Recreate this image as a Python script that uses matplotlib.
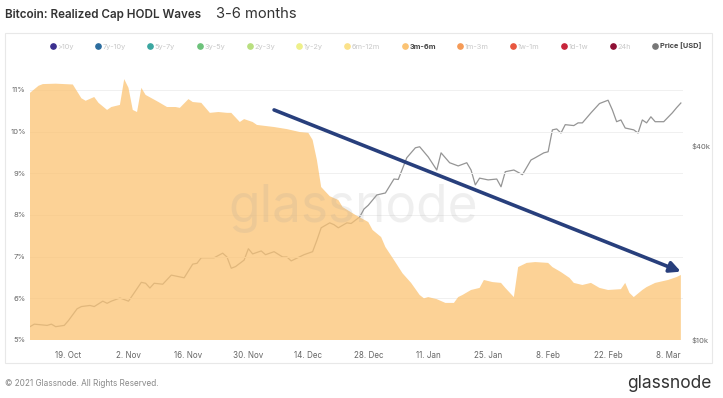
import pandas as pd
import matplotlib
matplotlib.use("Agg")
from matplotlib import pyplot as plt
from matplotlib.lines import Line2D
from matplotlib.patches import Rectangle
import matplotlib.dates as mdates

plt.rcParams['font.family'] = ['Inter', 'DejaVu Sans']

start = pd.Timestamp('2020-10-10')

# 3m-6m share of realized cap (day offset from start, %)
hodl_days = [0, 2, 3, 6, 10, 12, 13, 15, 16, 18, 19, 21, 22, 23, 24, 25, 26, 27,
             30, 32, 34, 35, 37, 38, 40, 42, 44, 46, 47, 49, 50, 52, 53, 57, 60,
             63, 65, 66, 67, 68, 70, 72, 73, 76, 79, 80, 82, 83, 85, 87, 89, 91,
             92, 93, 95, 97, 99, 100, 101, 103, 105, 106, 108, 110, 111, 113, 114,
             116, 118, 121, 122, 124, 126, 127, 129, 131, 133, 135, 138, 139, 140,
             141, 143, 144, 146, 149, 151, 152]
hodl_pct = [10.93, 11.10, 11.14, 11.15, 11.13, 10.80, 10.74, 10.83, 10.69, 10.52,
            10.59, 10.64, 11.26, 11.05, 10.52, 10.47, 11.05, 10.88, 10.71, 10.59,
            10.59, 10.57, 10.78, 10.71, 10.69, 10.45, 10.47, 10.45, 10.45, 10.23,
            10.30, 10.23, 10.16, 10.11, 10.06, 9.99, 9.97, 9.80, 9.32, 8.67, 8.45,
            8.36, 8.19, 8.00, 7.83, 7.64, 7.47, 7.23, 6.92, 6.60, 6.37, 6.08, 6.00,
            6.03, 5.98, 5.89, 5.89, 6.03, 6.08, 6.20, 6.25, 6.44, 6.39, 6.37, 6.25,
            6.03, 6.75, 6.85, 6.87, 6.85, 6.75, 6.63, 6.49, 6.37, 6.32, 6.37, 6.25,
            6.20, 6.22, 6.37, 6.13, 6.03, 6.20, 6.27, 6.37, 6.44, 6.51, 6.56]

# BTC price in thousand USD
price_days = [0, 1, 4, 5, 6, 8, 9, 11, 12, 14, 15, 17, 18, 19, 21, 23, 24, 26,
              27, 28, 29, 31, 33, 34, 36, 38, 39, 40, 43, 45, 46, 47, 48, 50, 51,
              52, 54, 55, 57, 59, 60, 61, 64, 66, 67, 68, 70, 71, 72, 74, 75, 77,
              78, 79, 81, 83, 85, 86, 88, 90, 91, 93, 95, 96, 98, 100, 102, 103,
              104, 105, 107, 109, 110, 111, 113, 115, 117, 118, 120, 121, 122, 123,
              124, 125, 127, 128, 129, 131, 133, 135, 136, 137, 138, 139, 141, 142,
              143, 144, 145, 146, 148, 150, 151, 152]
price_k = [11.0, 11.2, 11.1, 11.2, 11.0, 11.1, 11.5, 12.5, 12.7, 12.8, 12.7, 13.2,
           13.0, 13.2, 13.5, 13.2, 13.8, 15.1, 15.0, 14.5, 15.0, 14.9, 15.9, 15.8,
           15.6, 17.2, 17.3, 18.0, 18.0, 18.6, 18.1, 16.7, 16.9, 17.7, 19.2, 18.5,
           18.9, 18.4, 18.8, 18.1, 18.1, 17.6, 18.4, 18.8, 20.4, 22.3, 23.1, 22.8,
           22.3, 23.1, 23.0, 24.1, 25.5, 26.2, 28.2, 28.6, 31.6, 31.5, 36.8, 39.5,
           39.8, 37.0, 33.7, 38.1, 35.5, 34.7, 35.5, 33.7, 30.3, 31.8, 31.4, 31.6,
           29.9, 33.3, 33.7, 32.6, 36.2, 36.8, 38.1, 38.4, 44.9, 45.2, 43.9, 46.6,
           46.3, 47.2, 47.2, 50.7, 54.2, 55.5, 51.8, 47.6, 48.2, 45.5, 44.9, 43.9,
           48.2, 47.2, 49.3, 47.6, 47.6, 50.7, 52.6, 54.4]

pct_ticks = [5, 6, 7, 8, 9, 10, 11]
price_ticks = [10, 40]
date_ticks = ['2020-10-19', '2020-11-02', '2020-11-16', '2020-11-30', '2020-12-14',
              '2020-12-28', '2021-01-11', '2021-01-25', '2021-02-08', '2021-02-22',
              '2021-03-08']

legend_labels = ['>10y', '7y-10y', '5y-7y', '3y-5y', '2y-3y', '1y-2y', '6m-12m',
                 '3m-6m', '1m-3m', '1w-1m', '1d-1w', '24h', 'Price [USD]']
legend_colors = ['#3b2f8f', '#2b6c9e', '#3aa6a0', '#6cc27a', '#b8df7f', '#eef08a',
                 '#fbe28a', '#fbc373', '#f59a56', '#e8573f', '#c7243a', '#8e0f34',
                 '#777777']

hodl_dates = start + pd.to_timedelta(hodl_days, unit='D')
price_dates = start + pd.to_timedelta(price_days, unit='D')

fig = plt.figure(figsize=(7.23, 3.98), dpi=100)
fig.patch.set_facecolor('white')

ax = fig.add_axes([30 / 723, 58 / 398, 653 / 723, 268 / 398])
ax2 = ax.twinx()

# price line sits underneath the translucent fill
ax2.plot(price_dates, [p * 1000 for p in price_k], color='#959595', lw=0.9)
ax2.set_yscale('log')
ax2.set_ylim(10000, 67900)
ax2.set_yticks([p * 1000 for p in price_ticks])
ax2.set_yticklabels(['$%dk' % p for p in price_ticks])
ax2.yaxis.set_minor_locator(plt.NullLocator())
ax2.tick_params(axis='y', length=0, pad=6, labelsize=5.5, labelcolor='#666666')

ax.set_zorder(ax2.get_zorder() + 1)
ax.patch.set_visible(False)
ax.fill_between(hodl_dates, hodl_pct, 0, color='#fbc373', alpha=0.75, lw=0, zorder=2)
ax.set_ylim(5, 11.43)
ax.set_xlim(hodl_dates[0], hodl_dates[-1] + pd.Timedelta(days=0.5))
ax.set_yticks(pct_ticks)
ax.set_yticklabels(['%d%%' % t for t in pct_ticks])
ax.grid(axis='y', color='#f0f0f0', lw=0.7)
ax.set_axisbelow(True)

ax.set_xticks(pd.to_datetime(date_ticks))
ax.xaxis.set_major_formatter(mdates.DateFormatter('%-d. %b'))
ax.tick_params(axis='x', length=0, pad=8, labelsize=5.8, labelcolor='#666666')
ax.tick_params(axis='y', length=0, pad=3, labelsize=5.5, labelcolor='#666666')

for a in (ax, ax2):
    for s in a.spines.values():
        s.set_visible(False)

ax.text(0.495, 0.49, 'glassnode', transform=ax.transAxes, ha='center', va='center',
        fontsize=37, color='#9a9a9a', alpha=0.15, zorder=3)

ax.annotate('', xy=(hodl_dates[-1], 6.64), xytext=(start + pd.Timedelta(days=57), 10.52),
            arrowprops=dict(arrowstyle='-|>', color='#283f7c', lw=2.6,
                            mutation_scale=16, shrinkA=0, shrinkB=0), zorder=5)

# panel box
fig.add_artist(Rectangle((5 / 723, 35 / 398), 707 / 723, 330 / 398,
                         transform=fig.transFigure, fill=False,
                         edgecolor='#e8e8e8', lw=0.8))

handles = [Line2D([], [], ls='', marker='o', markersize=3.8, color=c)
           for c in legend_colors]
leg = fig.legend(handles, legend_labels, loc='center', bbox_to_anchor=(0.52, 0.884),
                 ncol=13, frameon=False, fontsize=5.3, handlelength=0.5,
                 handletextpad=0.35, columnspacing=3.1)
for t, lab in zip(leg.get_texts(), legend_labels):
    if lab in ('3m-6m', 'Price [USD]'):
        t.set_color('#444444')
        t.set_fontweight('bold')
    else:
        t.set_color('#c8c8c8')

fig.text(5 / 723, 1 - 15 / 398, 'Bitcoin: Realized Cap HODL Waves', fontsize=8.4,
         fontweight='semibold', color='#333333', va='center')
fig.text(216 / 723, 1 - 14 / 398, '3-6 months', fontsize=10.6, color='#333333',
         va='center')
fig.text(5 / 723, 1 - 383 / 398, '\u00a9 2021 Glassnode. All Rights Reserved.',
         fontsize=5.9, color='#888888', va='center')
fig.text(712 / 723, 1 - 383 / 398, 'glassnode', fontsize=12.5, color='#333333',
         va='center', ha='right')

fig.savefig('out.png', dpi=100)
